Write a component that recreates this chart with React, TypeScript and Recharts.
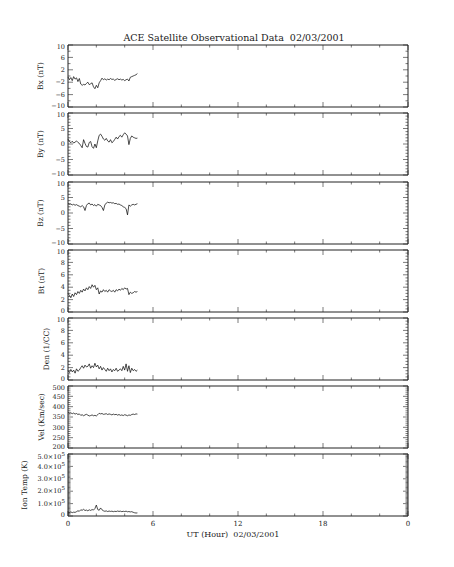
import { LineChart, Line, XAxis, YAxis } from "recharts";

// UT hours, 6-minute samples
const hours = [
  0, 0.1, 0.2, 0.3, 0.4, 0.5, 0.6, 0.7, 0.8, 0.9,
  1, 1.1, 1.2, 1.3, 1.4, 1.5, 1.6, 1.7, 1.8, 1.9,
  2, 2.1, 2.2, 2.3, 2.4, 2.5, 2.6, 2.7, 2.8, 2.9,
  3, 3.1, 3.2, 3.3, 3.4, 3.5, 3.6, 3.7, 3.8, 3.9,
  4, 4.1, 4.2, 4.3, 4.4, 4.5, 4.6, 4.7, 4.8, 4.9,
];

const bx = [
  -0.3, -1.2, -0.5, -1.5, -0.2, -1.0, -0.6, -1.8, -0.8,
  -2.6, -3.0, -2.7, -2.9, -2.4,
  -2.0, -2.8, -2.5, -2.2,
  -3.5, -4.1, -3.0, -3.8,
  -2.2, -1.5, -0.7, -1.2,
  -0.9, -1.3, -1.0, -1.2, -0.8, -1.1, -1.0, -1.4, -1.1, -0.9, -1.2, -1.0, -1.3, -1.1, -1.5, -1.2, -1.0,
  -1.6, -0.4, -0.2, 0.0, 0.2, 0.4, 0.8,
];

const by = [
  1.6, 0.8, 0.4, 0.9, 0.3, 0.6, 1.0, 0.5, 0.2,
  -0.5, -1.2, 1.4, 0.2, -0.8,
  -1.0, 0.5, 0.8, -0.9,
  -1.4, 0.0, -1.2, 1.0,
  2.8, 3.2, 2.5, 1.6,
  1.2, 1.8, 1.0, 0.6, 1.4, 0.4, 0.8, 1.5, 2.2, 1.6, 2.4, 2.8, 2.2, 3.0, 3.6, 3.2, 2.6,
  -0.2, 1.8, 2.6, 2.2, 2.0, 1.8, 1.9,
];

const bz = [
  3.0, 2.8, 2.9, 2.6, 2.8, 2.5, 2.7, 2.4, 2.2,
  2.0, 2.4, 2.0, 0.8, 2.4,
  3.0, 3.2, 2.6, 2.9,
  2.4, 2.7, 2.2, 2.8,
  2.6, 2.4, 1.8, 0.8,
  2.6, 3.2, 3.5, 3.3, 3.4, 3.2, 3.3, 3.0, 3.1, 2.8, 2.9, 2.6, 2.4, 2.0, 1.8, 1.4, -0.6,
  2.6, 2.2, 2.6, 2.8, 2.6, 2.8, 3.0,
];

const bt = [
  3.0, 2.7, 2.3, 2.9, 2.5, 3.1, 2.8, 3.3, 3.0,
  3.5, 3.2, 3.7, 3.4, 3.9,
  3.6, 4.1, 3.8, 4.4,
  4.0, 4.3, 3.6, 3.9,
  2.9, 3.4, 3.2, 3.6,
  3.3, 3.5, 3.2, 3.6, 3.4, 3.3, 3.5, 3.2, 3.6, 3.4, 3.7, 3.5, 3.8, 3.6, 3.9, 3.7, 3.8,
  2.8, 3.2, 3.0, 3.1, 3.3, 3.2, 3.3,
];

const den = [
  1.5, 1.2, 1.7, 1.3, 1.6, 1.1, 1.8, 1.4, 1.6,
  2.0, 2.3, 1.9, 2.4, 2.1,
  2.2, 2.6, 1.9, 2.3,
  2.0, 2.7, 2.1, 2.4,
  1.8, 2.2, 1.6, 2.0,
  1.7, 1.4, 1.9, 1.5, 1.8, 1.3, 1.7, 1.5, 1.9, 1.4, 1.6, 1.8, 1.5, 2.2, 1.6, 2.6, 1.4,
  2.3, 1.2, 1.9, 1.5, 1.7, 1.4, 1.6,
];

const vel = [
  372, 368, 370, 366, 369, 364, 367, 362, 365,
  358, 361, 356, 360, 363,
  359, 355, 357, 360,
  356, 358, 355, 361,
  368, 365, 367, 363,
  364, 366, 362, 365, 363, 360, 364, 361, 363, 359, 362, 358, 360, 357, 361, 359, 356,
  360, 358, 362, 364, 362, 365, 364,
];

const ionTemp = [
  30000, 28000, 33000, 27000, 31000, 29000, 35000, 42000, 38000,
  50000, 46000, 54000, 44000, 48000,
  42000, 50000, 45000, 52000,
  48000, 60000, 88000, 52000,
  46000, 65000, 50000, 42000,
  38000, 41000, 36000, 40000, 37000, 39000, 35000, 38000, 36000, 40000, 37000, 39000, 35000, 38000, 36000, 39000, 34000,
  36000, 33000, 35000, 30000, 26000, 24000, 25000,
];

const bxTicks = [-10, -6, -2, 2, 6, 10];
const bxLabels = ["\u221210", "\u22126", "\u22122", "2", "6", "10"];
const byTicks = [-10, -5, 0, 5, 10];
const byLabels = ["\u221210", "\u22125", "0", "5", "10"];
const btTicks = [0, 2, 4, 6, 8, 10];
const btLabels = ["0", "2", "4", "6", "8", "10"];
const velTicks = [200, 250, 300, 350, 400, 450, 500];
const velLabels = ["200", "250", "300", "350", "400", "450", "500"];
const ionTicks = [0, 100000, 200000, 300000, 400000, 500000];
const ionLabels = ["0", "1.0\u00d710^5", "2.0\u00d710^5", "3.0\u00d710^5", "4.0\u00d710^5", "5.0\u00d710^5"];

const hourTicks = [0, 6, 12, 18, 24];
const hourLabels = ["0", "6", "12", "18", "0"];

const W = 454;
const H = 567;
const LEFT = 68;
const RIGHT = 408;
const PANEL_H = 62;
const INK = "#222";
const FONT = '"DejaVu Serif", serif';

type Panel = {
  title: string;
  values: number[];
  min: number;
  max: number;
  ticks: number[];
  labels: string[];
  minor: number;
  top: number;
  titleX: number;
};

const panels: Panel[] = [
  { title: "Bx (nT)", values: bx, min: -10, max: 10, ticks: bxTicks, labels: bxLabels, minor: 2, top: 45, titleX: 40 },
  { title: "By (nT)", values: by, min: -10, max: 10, ticks: byTicks, labels: byLabels, minor: 1, top: 113, titleX: 40 },
  { title: "Bz (nT)", values: bz, min: -10, max: 10, ticks: byTicks, labels: byLabels, minor: 1, top: 182, titleX: 40 },
  { title: "Bt (nT)", values: bt, min: 0, max: 10, ticks: btTicks, labels: btLabels, minor: 0.5, top: 250, titleX: 41 },
  { title: "Den (1/CC)", values: den, min: 0, max: 10, ticks: btTicks, labels: btLabels, minor: 0.5, top: 318, titleX: 46 },
  { title: "Vel (Km/sec)", values: vel, min: 200, max: 500, ticks: velTicks, labels: velLabels, minor: 10, top: 386, titleX: 41 },
  { title: "Ion Temp (K)", values: ionTemp, min: 0, max: 500000, ticks: ionTicks, labels: ionLabels, minor: 10000, top: 454, titleX: 24 },
];

const allTicks = (min: number, max: number, step: number) => {
  const n = Math.round((max - min) / step);
  return Array.from({ length: n + 1 }, (_, i) => min + i * step);
};

const hourAxisTicks = allTicks(0, 24, 2);

const TickLabel = ({ x, y, label }: { x: number; y: number; label: string }) => {
  const [base, exp] = label.split("^");
  return (
    <text x={x} y={y} dy="0.35em" textAnchor="end" fontFamily={FONT} fontSize={6.5} fill={INK}>
      {base}
      {exp && (
        <tspan dy={-3} fontSize={5.5}>
          {exp}
        </tspan>
      )}
    </text>
  );
};

const YTick = (props: any) => {
  const { y, payload, side, panel } = props;
  const idx = panel.ticks.findIndex((t: number) => Math.abs(t - payload.value) < 1e-6);
  const major = idx >= 0;
  const len = major ? 5 : 2.5;
  const x0 = side === "left" ? LEFT : RIGHT;
  const x1 = side === "left" ? LEFT + len : RIGHT - len;
  // keep the end labels inside their own panel
  const nudge = idx === 0 ? -1.5 : idx === panel.ticks.length - 1 ? (panel.labels[idx].includes("^") ? 2.5 : 1.5) : 0;
  return (
    <g>
      <line x1={x0} x2={x1} y1={y} y2={y} stroke={INK} strokeWidth={0.6} />
      {side === "left" && major && <TickLabel x={LEFT - 3} y={y + nudge} label={panel.labels[idx]} />}
    </g>
  );
};

const XTick = (props: any) => {
  const { x, payload, side, panel, showLabels } = props;
  const idx = hourTicks.indexOf(payload.value);
  const len = idx >= 0 ? 5 : 2.5;
  const base = side === "bottom" ? panel.top + PANEL_H : panel.top;
  const y1 = side === "bottom" ? base - len : base + len;
  return (
    <g>
      <line x1={x} x2={x} y1={base} y2={y1} stroke={INK} strokeWidth={0.6} />
      {showLabels && idx >= 0 && (
        <text x={x} y={base + 10} textAnchor="middle" fontFamily={FONT} fontSize={7} fill={INK}>
          {hourLabels[idx]}
        </text>
      )}
    </g>
  );
};

const AxisTitle = ({ panel }: { panel: Panel }) => {
  const cy = panel.top + PANEL_H / 2;
  return (
    <text
      x={panel.titleX}
      y={cy}
      transform={`rotate(-90, ${panel.titleX}, ${cy})`}
      textAnchor="middle"
      dominantBaseline="central"
      fontFamily={FONT}
      fontSize={7.5}
      fill={INK}
    >
      {panel.title}
    </text>
  );
};

const PanelChart = ({ panel, last }: { panel: Panel; last: boolean }) => {
  const data = hours.map((t, i) => ({ t, v: panel.values[i] }));
  const yTicks = allTicks(panel.min, panel.max, panel.minor);
  return (
    <div style={{ position: "absolute", left: 0, top: 0 }}>
      <LineChart
        width={W}
        height={H}
        data={data}
        margin={{ top: panel.top - 1, bottom: H - panel.top - PANEL_H - 1, left: LEFT - 1, right: W - RIGHT - 1 }}
      >
        <XAxis
          xAxisId="b"
          dataKey="t"
          type="number"
          domain={[0, 24]}
          ticks={hourAxisTicks}
          interval={0}
          height={1}
          tickLine={false}
          axisLine={{ stroke: INK }}
          tick={(p: any) => <XTick {...p} side="bottom" panel={panel} showLabels={last} />}
        />
        <XAxis
          xAxisId="t"
          orientation="top"
          dataKey="t"
          type="number"
          domain={[0, 24]}
          ticks={hourAxisTicks}
          interval={0}
          height={1}
          tickLine={false}
          axisLine={{ stroke: INK }}
          tick={(p: any) => <XTick {...p} side="top" panel={panel} showLabels={false} />}
        />
        <YAxis
          yAxisId="l"
          type="number"
          domain={[panel.min, panel.max]}
          allowDataOverflow
          ticks={yTicks}
          interval={0}
          width={1}
          tickLine={false}
          axisLine={{ stroke: INK }}
          tick={(p: any) => <YTick {...p} side="left" panel={panel} />}
          label={<AxisTitle panel={panel} />}
        />
        <YAxis
          yAxisId="r"
          orientation="right"
          type="number"
          domain={[panel.min, panel.max]}
          allowDataOverflow
          ticks={yTicks}
          interval={0}
          width={1}
          tickLine={false}
          axisLine={{ stroke: INK }}
          tick={(p: any) => <YTick {...p} side="right" panel={panel} />}
        />
        <Line
          xAxisId="b"
          yAxisId="l"
          dataKey="v"
          type="linear"
          stroke="#000"
          strokeWidth={0.7}
          dot={false}
          isAnimationActive={false}
        />
      </LineChart>
    </div>
  );
};

export default function App() {
  return (
    <div style={{ position: "absolute", left: 0, top: 0, width: W, height: H, background: "#fff" }}>
      {panels.map((p, i) => (
        <PanelChart key={p.title} panel={p} last={i === panels.length - 1} />
      ))}
      <svg width={W} height={H} style={{ position: "absolute", left: 0, top: 0, pointerEvents: "none" }}>
        <text x={234} y={41} textAnchor="middle" fontFamily={FONT} fontSize={9.5} fill={INK} style={{ whiteSpace: "pre" }}>
          ACE Satellite Observational Data  02/03/2001
        </text>
        <text x={233} y={537} textAnchor="middle" fontFamily={FONT} fontSize={8} fill={INK} style={{ whiteSpace: "pre" }}>
          UT (Hour)  02/03/2001
        </text>
      </svg>
    </div>
  );
}
